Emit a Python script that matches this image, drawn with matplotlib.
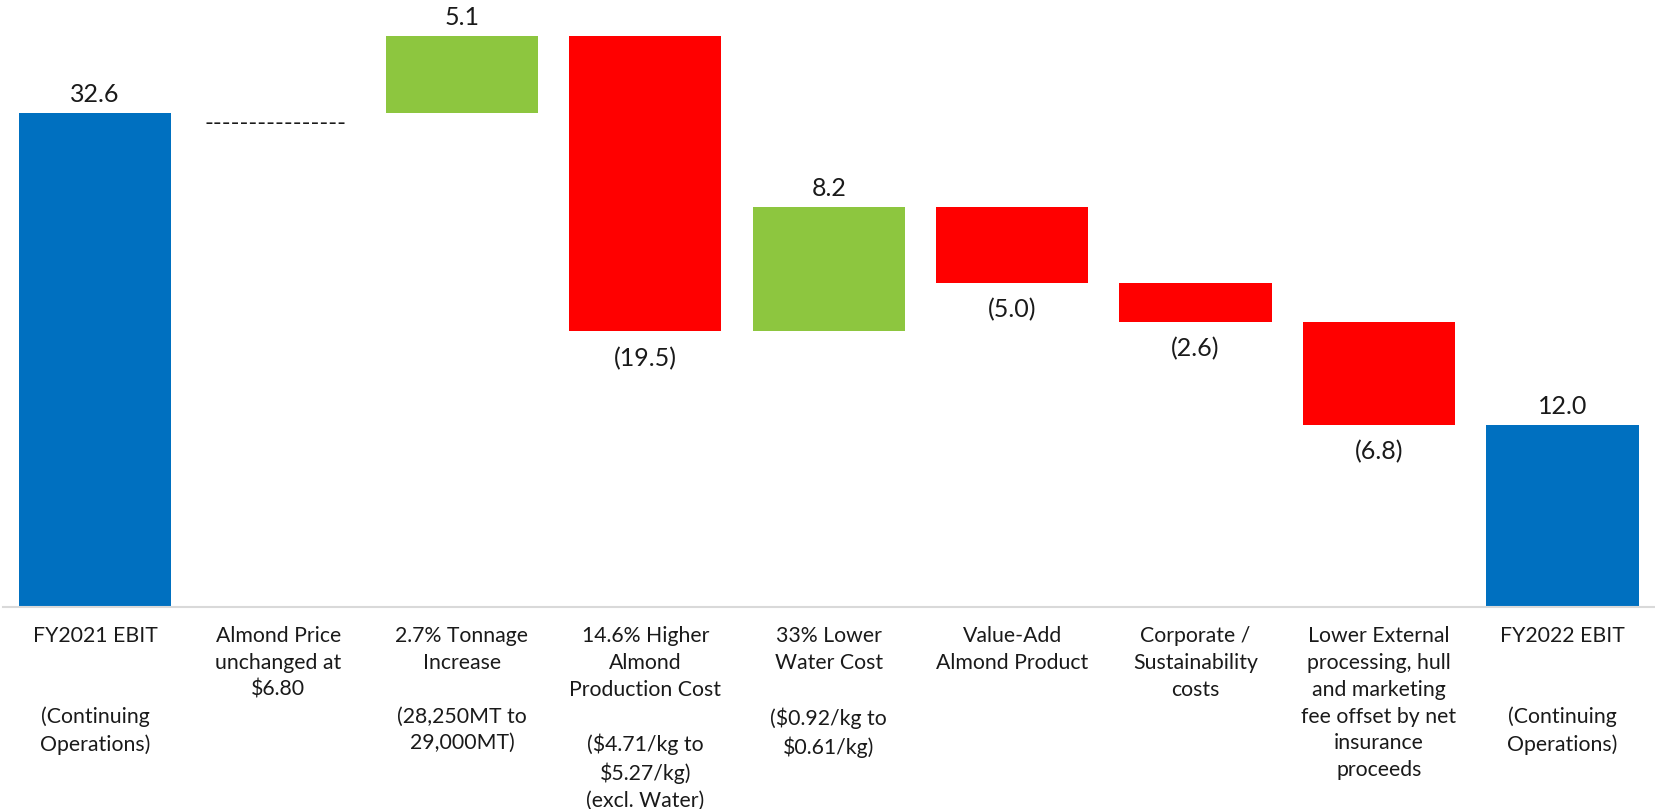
import matplotlib
matplotlib.use("Agg")
import matplotlib.pyplot as plt

plt.rcParams['font.family'] = ['Lato', 'DejaVu Sans']
plt.rcParams['text.parse_math'] = False

categories = [
    "FY2021 EBIT\n\n\n(Continuing\nOperations)",
    "Almond Price\nunchanged at\n$6.80",
    "2.7% Tonnage\nIncrease\n\n(28,250MT to\n29,000MT)",
    "14.6% Higher\nAlmond\nProduction Cost\n\n($4.71/kg to\n$5.27/kg)\n(excl. Water)",
    "33% Lower\nWater Cost\n\n($0.92/kg to\n$0.61/kg)",
    "Value-Add\nAlmond Product",
    "Corporate /\nSustainability\ncosts",
    "Lower External\nprocessing, hull\nand marketing\nfee offset by net\ninsurance\nproceeds",
    "FY2022 EBIT\n\n\n(Continuing\nOperations)",
]
kinds = ["total", "none", "delta", "delta", "delta", "delta", "delta", "delta", "total"]
values = [32.6, 0.0, 5.1, -19.5, 8.2, -5.0, -2.6, -6.8, 12.0]

BLUE = "#0070C0"
GREEN = "#8DC63F"
RED = "#FF0000"
TXT = "#1a1a1a"

fig = plt.figure(figsize=(16.56, 8.09), dpi=100)
ax = fig.add_axes([0.002, 0.2497, 0.998, 0.7503])
ax.set_xlim(-0.5, 8.51)
ax.set_ylim(0, 40.07)

width = 0.83
running = 0.0
for i, (k, v) in enumerate(zip(kinds, values)):
    if k == "total":
        ax.bar(i, v, width=width, bottom=0, color=BLUE)
        ax.annotate(f"{v:.1f}", (i, v), xytext=(0, 5), textcoords="offset points",
                    ha="center", va="bottom", fontsize=18, color=TXT)
        running = v
    elif k == "none":
        ax.annotate("-" * 16, (i, running), xytext=(-2, 0), textcoords="offset points",
                    ha="center", va="top", fontsize=17, color=TXT)
    else:
        lo = min(running, running + v)
        hi = max(running, running + v)
        ax.bar(i, hi - lo, width=width, bottom=lo, color=GREEN if v > 0 else RED)
        if v > 0:
            ax.annotate(f"{v:.1f}", (i, hi), xytext=(0, 5), textcoords="offset points",
                        ha="center", va="bottom", fontsize=18, color=TXT)
        else:
            ax.annotate(f"({abs(v):.1f})", (i, lo), xytext=(0, -11), textcoords="offset points",
                        ha="center", va="top", fontsize=18, color=TXT)
        running = running + v

ax.set_xticks(range(len(categories)))
ax.set_xticklabels(categories, fontsize=15.3, color=TXT, linespacing=1.42)
ax.tick_params(axis="x", length=0, pad=14)
ax.set_yticks([])
for s in ["top", "left", "right"]:
    ax.spines[s].set_visible(False)
ax.spines["bottom"].set_color("#D9D9D9")
ax.spines["bottom"].set_linewidth(1.5)

fig.savefig("out.png", dpi=100)
